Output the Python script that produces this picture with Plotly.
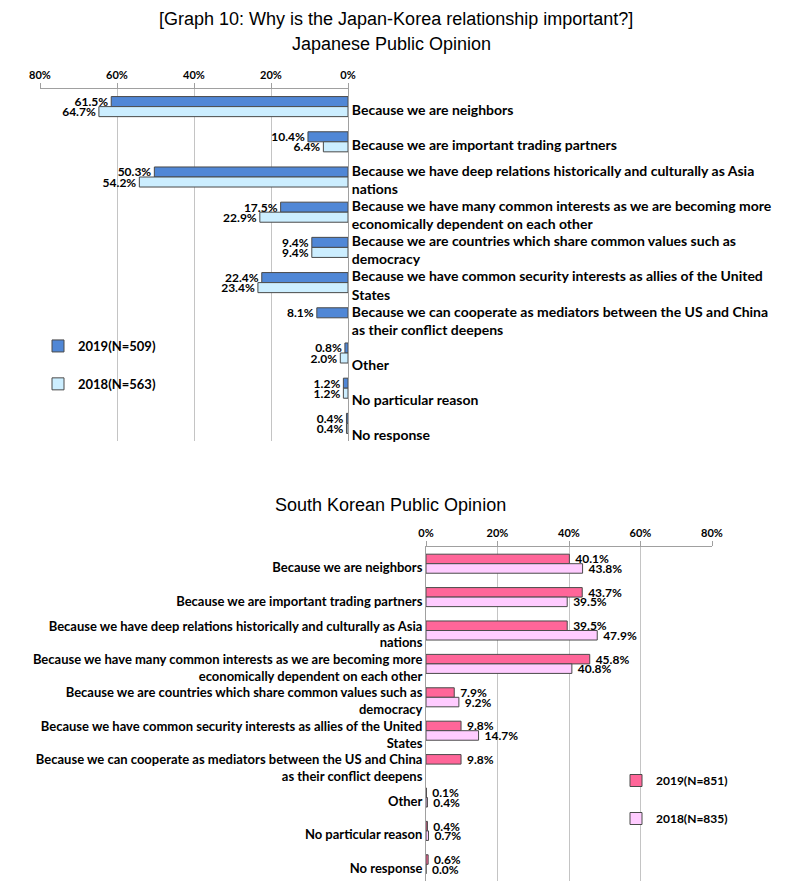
import plotly.graph_objects as go

categories = [
    "Because we are neighbors",
    "Because we are important trading partners",
    "Because we have deep relations historically and culturally as Asia nations",
    "Because we have many common interests as we are becoming more economically dependent on each other",
    "Because we are countries which share common values such as democracy",
    "Because we have common security interests as allies of the United States",
    "Because we can cooperate as mediators between the US and China as their conflict deepens",
    "Other",
    "No particular reason",
    "No response",
]
category_labels = [
    "Because we are neighbors",
    "Because we are important trading partners",
    "Because we have deep relations historically and culturally as Asia<br>nations",
    "Because we have many common interests as we are becoming more<br>economically dependent on each other",
    "Because we are countries which share common values such as<br>democracy",
    "Because we have common security interests as allies of the United<br>States",
    "Because we can cooperate as mediators between the US and China<br>as their conflict deepens",
    "Other",
    "No particular reason",
    "No response",
]
# the Japanese chart sets its last three labels a line lower
jp_category_labels = category_labels[:7] + [" <br>" + c for c in category_labels[7:]]

jp_2019 = [61.5, 10.4, 50.3, 17.5, 9.4, 22.4, 8.1, 0.8, 1.2, 0.4]
jp_2018 = [64.7, 6.4, 54.2, 22.9, 9.4, 23.4, None, 2.0, 1.2, 0.4]
kr_2019 = [40.1, 43.7, 39.5, 45.8, 7.9, 9.8, 9.8, 0.1, 0.4, 0.6]
kr_2018 = [43.8, 39.5, 47.9, 40.8, 9.2, 14.7, None, 0.4, 0.7, 0.0]

jp_names = ["2019(N=509)", "2018(N=563)"]
kr_names = ["2019(N=851)", "2018(N=835)"]
x_ticks = [0, 20, 40, 60, 80]
x_tick_labels = ["0%", "20%", "40%", "60%", "80%"]

main_title = "[Graph 10: Why is the Japan-Korea relationship important?]"
jp_title = "Japanese Public Opinion"
kr_title = "South Korean Public Opinion"

LBL = "Lato"
OUTLINE = "#4a4a4a"
GRID = "#c4c4c4"
AXIS = "#a0a0a0"

W, H, OFF = 800, 890, 8  # page body margin offset


def xp(px):
    return (px - OFF) / W


def yp(py):
    return 1 - (py - OFF) / H


fig = go.Figure()


def add_bar(vals, name, color, xa, ya, legend, group, pad=""):
    fig.add_trace(go.Bar(
        y=categories, x=vals, name=name, orientation="h",
        marker=dict(color=color, line=dict(color=OUTLINE, width=1)),
        text=[None if v is None else f"{pad}{v:.1f}%" for v in vals],
        textposition="outside", cliponaxis=False, constraintext="none",
        textfont=dict(family=LBL, size=12, color="black", weight="bold"),
        xaxis=xa, yaxis=ya, legend=legend, legendgroup=group,
    ))


add_bar(jp_2019, jp_names[0], "#5087D6", "x", "y", "legend", "j19")
add_bar(jp_2018, jp_names[1], "#CCEEFF", "x", "y", "legend", "j18")
add_bar(kr_2019, kr_names[0], "#FF6699", "x2", "y2", "legend2", "k19", "\u00a0")
add_bar(kr_2018, kr_names[1], "#FFCCFF", "x2", "y2", "legend2", "k18", "\u00a0")

tickfont = dict(family=LBL, size=11, color="black", weight="bold")

common_x = dict(side="top", tickvals=x_ticks, ticktext=x_tick_labels, tickfont=tickfont,
                showgrid=True, gridcolor=GRID, gridwidth=1,
                showline=True, linecolor=AXIS, ticks="outside",
                ticklen=5, tickcolor=AXIS, zeroline=False, automargin=False)
common_y = dict(categoryorder="array", categoryarray=categories, tickvals=categories,
                autorange="reversed", showline=True, linecolor=AXIS, showgrid=False,
                automargin=False)

fig.update_layout(
    width=W, height=H,
    margin=dict(l=0, r=0, t=0, b=0, autoexpand=False),
    paper_bgcolor="white", plot_bgcolor="white",
    barmode="group", bargap=0.43, bargroupgap=0,
    xaxis=dict(domain=[xp(40), xp(348)], range=[80, 0], anchor="y", **common_x),
    yaxis=dict(domain=[yp(441), yp(89)], side="right", anchor="x",
               ticktext=jp_category_labels, ticklabelshift=-3,
               tickfont=dict(family=LBL, size=14, color="black", weight="bold"),
               **common_y),
    xaxis2=dict(domain=[xp(426), xp(712)], range=[0, 80], anchor="y2", **common_x),
    yaxis2=dict(domain=[yp(881), yp(547)], side="left", anchor="x2",
                ticktext=category_labels, ticklabelshift=-4,
                tickfont=dict(family=LBL, size=13, color="black", weight="bold"),
                **common_y),
    legend=dict(x=xp(38), y=yp(331), xanchor="left", yanchor="top",
                bgcolor="rgba(0,0,0,0)", tracegroupgap=18, itemwidth=30,
                font=dict(family=LBL, size=13, color="black", weight="bold")),
    legend2=dict(x=xp(616), y=yp(766), xanchor="left", yanchor="top",
                 bgcolor="rgba(0,0,0,0)", tracegroupgap=19, itemwidth=30,
                 font=dict(family=LBL, size=12, color="black", weight="bold")),
    showlegend=True,
)

title_font = dict(family="Liberation Sans, Arial", size=18, color="black")
fig.add_annotation(text=main_title, x=xp(396), y=1, xref="paper", yref="paper",
                   showarrow=False, font=title_font, xanchor="center", yanchor="top",
                   borderpad=0)
fig.add_annotation(text=jp_title, x=xp(391), y=yp(44), xref="paper", yref="paper",
                   showarrow=False, font=title_font, xanchor="center", yanchor="middle")
fig.add_annotation(text=kr_title, x=xp(390), y=yp(505), xref="paper", yref="paper",
                   showarrow=False, font=title_font, xanchor="center", yanchor="middle")

fig.write_html("out.html")
